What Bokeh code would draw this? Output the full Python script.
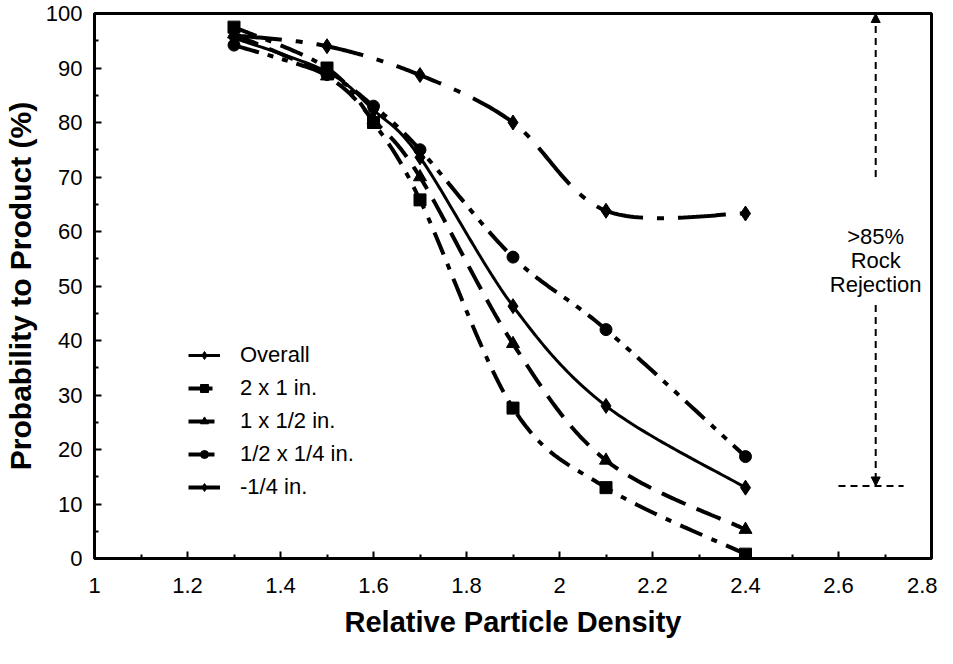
import numpy as np
from bokeh.plotting import figure
from bokeh.models import (FixedTicker, Legend, LegendItem, Arrow, NormalHead,
                          Label, Range1d, NumeralTickFormatter, Span)
from bokeh.embed import file_html
from bokeh.resources import INLINE

# ---------------- data ----------------
density = [1.3, 1.5, 1.6, 1.7, 1.9, 2.1, 2.4]
density_fine = [1.3, 1.5, 1.7, 1.9, 2.1, 2.4]
overall = [95.5, 89.3, 82.3, 73.6, 46.3, 28.0, 13.0]
size_2x1 = [97.5, 90.0, 80.0, 65.8, 27.6, 13.0, 0.8]
size_1xhalf = [96.2, 88.5, 80.5, 70.0, 39.4, 18.0, 5.3]
size_halfxquarter = [94.2, 88.8, 83.0, 75.0, 55.3, 42.0, 18.7]
size_minus_quarter = [96.0, 94.0, 88.7, 80.0, 63.8, 63.3]

series_names = ["Overall", "2 x 1 in.", "1 x 1/2 in.", "1/2 x 1/4 in.", "-1/4 in."]

x_ticks = [1, 1.2, 1.4, 1.6, 1.8, 2, 2.2, 2.4, 2.6, 2.8]
x_tick_labels = ["1", "1.2", "1.4", "1.6", "1.8", "2", "2.2", "2.4", "2.6", "2.8"]
x_minor = [1.1, 1.3, 1.5, 1.7, 1.9, 2.1, 2.3, 2.5, 2.7]
y_ticks = [0, 10, 20, 30, 40, 50, 60, 70, 80, 90, 100]
y_minor = [5, 15, 25, 35, 45, 55, 65, 75, 85, 95]

annot_lines = [">85%", "Rock", "Rejection"]

FONT = "Liberation Sans"
X_MIN, X_MAX, Y_MIN, Y_MAX = 1, 2.8, 0, 100


def smooth(xs, ys, n=40):
    """Excel-like smoothed line (cubic Bezier through the points)."""
    P = np.column_stack([xs, ys]).astype(float)
    ext = np.vstack([P[0], P, P[-1]])
    out = []
    for i in range(len(P) - 1):
        p0, p1, p2, p3 = ext[i], ext[i + 1], ext[i + 2], ext[i + 3]
        c1 = p1 + (p2 - p0) / 6.0
        c2 = p2 - (p3 - p1) / 6.0
        t = np.linspace(0, 1, n, endpoint=(i == len(P) - 2))[:, None]
        seg = ((1 - t) ** 3) * p1 + 3 * ((1 - t) ** 2) * t * c1 + 3 * (1 - t) * t ** 2 * c2 + t ** 3 * p2
        out.append(seg)
    S = np.vstack(out)
    return S[:, 0], S[:, 1]


p = figure(width=937, height=648, output_backend="svg", toolbar_location=None,
           x_range=Range1d(X_MIN, X_MAX), y_range=Range1d(Y_MIN, Y_MAX),
           min_border_left=91, min_border_right=6, min_border_top=13, min_border_bottom=90)

p.grid.visible = False
p.outline_line_color = "black"
p.outline_line_width = 3
p.outline_line_alpha = 1.0
p.background_fill_color = "white"
p.border_fill_color = "white"

# axes
p.xaxis.ticker = FixedTicker(ticks=x_ticks, minor_ticks=x_minor)
p.xaxis.formatter = NumeralTickFormatter(format="0.[0]")
p.xaxis.major_label_overrides = dict(zip(x_ticks, x_tick_labels))
p.yaxis.ticker = FixedTicker(ticks=y_ticks, minor_ticks=y_minor)

for ax in (p.xaxis[0], p.yaxis[0]):
    ax.axis_line_width = 3
    ax.axis_line_color = "black"
    ax.major_tick_in = 7
    ax.major_tick_out = 0
    ax.minor_tick_in = 4
    ax.minor_tick_out = 0
    ax.major_tick_line_width = 2
    ax.minor_tick_line_width = 2
    ax.major_tick_line_color = "black"
    ax.minor_tick_line_color = "black"
    ax.major_label_text_font = FONT
    ax.major_label_text_font_size = "22px"
    ax.major_label_text_color = "black"
    ax.axis_label_text_font = FONT
    ax.axis_label_text_font_style = "bold"
    ax.axis_label_text_color = "black"

p.xaxis.axis_label = "Relative Particle Density"
p.xaxis.axis_label_text_font_size = "29px"
p.xaxis.major_label_standoff = 19
p.xaxis.axis_label_standoff = 10
p.yaxis.axis_label = "Probability to Product (%)"
p.yaxis.axis_label_text_font_size = "30px"
p.yaxis.major_label_standoff = 12
p.yaxis.axis_label_standoff = 6

# top and right frame edges (reinforcing the outline)
p.add_layout(Span(location=Y_MAX, dimension="width", line_color="black", line_width=3))
p.add_layout(Span(location=X_MAX, dimension="height", line_color="black", line_width=3))

# ---------------- series ----------------
specs = [
    (density, overall, None, 3, "diamond", 15),
    (density, size_2x1, "24 10 6 10", 4, "square", 12),
    (density, size_1xhalf, "26 12", 4, "triangle", 13),
    (density, size_halfxquarter, "26 9 6 9 6 9", 4, "circle", 12),
    (density_fine, size_minus_quarter, "48 14 7 14", 4, "diamond", 15),
]

items = []
for (xs, ys, dash, lw, marker, msize), name in zip(specs, series_names):
    sx, sy = smooth(xs, ys)
    kw = dict(line_color="black", line_width=lw)
    if dash:
        kw["line_dash"] = dash
    lr = p.line(sx, sy, **kw)
    mr = p.scatter(xs, ys, marker=marker, size=msize, fill_color="black", line_color="black")
    items.append(LegendItem(label=name, renderers=[lr, mr]))

legend = Legend(items=items, location=(94, 58), padding=0, margin=0,
                border_line_color=None, background_fill_alpha=0,
                label_text_font=FONT, label_text_font_size="22px", label_text_color="black",
                glyph_width=32, glyph_height=20, label_height=20, spacing=7,
                label_standoff=20)
p.add_layout(legend, "center")

# ---------------- annotation ----------------
arrow_x = 2.68
top_level = Y_MAX
bottom_level = overall[-1] + 0.3
upper_gap_end = 70
lower_gap_start = 46.5

p.add_layout(Arrow(x_start=arrow_x, y_start=upper_gap_end, x_end=arrow_x, y_end=top_level,
                   line_color="black", line_width=2, line_dash="7 5",
                   end=NormalHead(size=9, fill_color="black", line_color="black", line_width=1)))
p.add_layout(Arrow(x_start=arrow_x, y_start=lower_gap_start, x_end=arrow_x, y_end=bottom_level,
                   line_color="black", line_width=2, line_dash="7 5",
                   end=NormalHead(size=9, fill_color="black", line_color="black", line_width=1)))
p.line([2.60, 2.74], [bottom_level, bottom_level], line_color="black", line_width=2, line_dash="7 5")

for i, t in enumerate(annot_lines):
    p.add_layout(Label(x=arrow_x, y=59.0 - i * 4.4, text=t, text_align="center",
                       text_baseline="middle", text_font=FONT, text_font_size="22px",
                       text_color="black"))

open("out.html", "w").write(file_html(p, INLINE))
